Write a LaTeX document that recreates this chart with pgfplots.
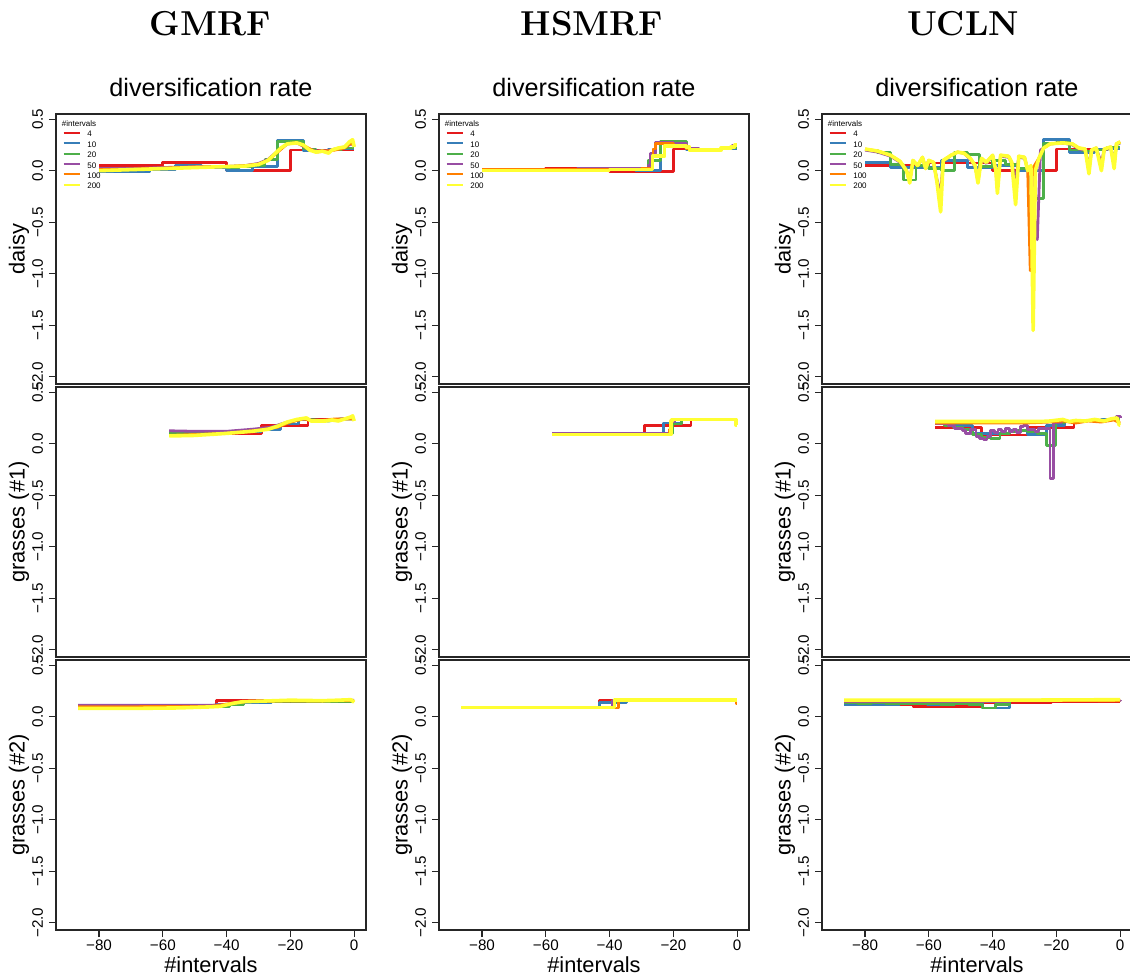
\documentclass[border=0pt]{standalone}
\usepackage{fontspec}
\usepackage{pgfplots}
\pgfplotsset{compat=1.18}
\newfontfamily\helv{Liberation Sans}
\definecolor{setred}{HTML}{E41A1C}
\definecolor{setblue}{HTML}{377EB8}
\definecolor{setgreen}{HTML}{4DAF4A}
\definecolor{setpurple}{HTML}{984EA3}
\definecolor{setorange}{HTML}{FF7F00}
\definecolor{setyellow}{HTML}{FFFF33}
\pgfplotsset{
  panel/.style={
    scale only axis, width=155pt, height=135pt,
    xmin=-93.5, xmax=3.7, ymin=-2.07, ymax=0.55,
    axis line style={black!85, line width=0.7pt},
    tick align=outside, tick pos=left, major tick length=3.5pt,
    every tick/.style={black!85, line width=0.6pt},
    ytick={-2,-1.5,-1,-0.5,0,0.5},
    yticklabels={−2.0,−1.5,−1.0,−0.5,0.0,0.5},
    yticklabel style={rotate=90, anchor=south, inner sep=0pt, font=\helv\fontsize{7.6}{8}\selectfont},
    yticklabel shift=2.8pt,
    xtick=\empty,
  },
  bottom/.style={
    xtick={-80,-60,-40,-20,0},
    xticklabels={−80,−60,−40,−20,0},
    xticklabel style={anchor=north, inner sep=0pt, font=\helv\fontsize{7.6}{8}\selectfont},
    xticklabel shift=1pt,
  },
  withleg/.style={
    legend style={at={(rel axis cs:0.02,0.94)}, anchor=north west, draw=none, fill=none,
      inner sep=0pt, row sep=0pt, font=\helv\fontsize{4}{4.5}\selectfont,
      nodes={inner sep=0.45pt}},
    legend cell align=left,
    legend image code/.code={\draw[##1, line width=1pt] (0pt,1.4pt) -- (8pt,1.4pt); \path (10.5pt,1.4pt);},
  },
  s4/.style={color=setred, line width=1.4pt, line join=round},
  s10/.style={color=setblue, line width=1.4pt, line join=round},
  s20/.style={color=setgreen, line width=1.4pt, line join=round},
  s50/.style={color=setpurple, line width=1.4pt, line join=round},
  s100/.style={color=setorange, line width=1.4pt, line join=round},
  s200/.style={color=setyellow, line width=1.8pt, line join=round},
}
\begin{document}
\begin{tikzpicture}
\useasboundingbox (0pt,0pt) rectangle (565pt,490pt);
% ---------- titles ----------
\node[font=\fontsize{17.3}{20}\selectfont\bfseries] at (105pt,478pt) {GMRF};
\node[font=\fontsize{17.3}{20}\selectfont\bfseries] at (296pt,478pt) {HSMRF};
\node[font=\fontsize{17.3}{20}\selectfont\bfseries] at (481.5pt,478pt) {UCLN};
\node[font=\helv\fontsize{12.6}{14}\selectfont] at (105.5pt,446pt) {diversification rate};
\node[font=\helv\fontsize{12.6}{14}\selectfont] at (297pt,446pt) {diversification rate};
\node[font=\helv\fontsize{12.6}{14}\selectfont] at (488.5pt,446pt) {diversification rate};
\node[font=\helv\fontsize{10.9}{12}\selectfont] at (105.5pt,7.5pt) {\#intervals};
\node[font=\helv\fontsize{10.9}{12}\selectfont] at (297pt,7.5pt) {\#intervals};
\node[font=\helv\fontsize{10.9}{12}\selectfont] at (488.5pt,7.5pt) {\#intervals};
\foreach \xx in {9.5,201,392.5}{
  \node[rotate=90, font=\helv\fontsize{10.9}{12}\selectfont] at (\xx pt,365.5pt) {daisy};
  \node[rotate=90, font=\helv\fontsize{10.9}{12}\selectfont] at (\xx pt,229pt) {grasses (\#1)};
  \node[rotate=90, font=\helv\fontsize{10.9}{12}\selectfont] at (\xx pt,92.5pt) {grasses (\#2)};
}
% ================= ROW 1: daisy =================
\begin{axis}[panel, withleg, at={(28pt,433pt)}, anchor=north west]
\addplot[s4, const plot] coordinates {(-80,0.05)(-60,0.08)(-40,0.0)(-20,0.2)(0,0.2)};
\addlegendentry{4}
\addplot[s10, const plot] coordinates {(-80,-0.01)(-72,-0.01)(-64,0.01)(-56,0.05)(-48,0.03)(-40,0.0)(-32,0.04)(-24,0.29)(-16,0.19)(-8,0.21)(0,0.21)};
\addlegendentry{10}
\addplot[s20, const plot] coordinates {(-80,0.01)(-76,0.01)(-72,0.01)(-68,0.02)(-64,0.02)(-60,0.03)(-56,0.03)(-52,0.04)(-48,0.04)(-44,0.04)(-40,0.03)(-36,0.04)(-32,0.05)(-28,0.11)(-24,0.28)(-20,0.28)(-16,0.21)(-12,0.19)(-8,0.2)(-4,0.22)(0,0.22)};
\addlegendentry{20}
\addplot[s50] coordinates {(-80,0.02)(-70,0.02)(-60,0.03)(-50,0.04)(-40,0.04)(-34,0.05)(-30,0.07)(-27,0.11)(-24,0.19)(-21,0.26)(-18,0.27)(-15,0.22)(-12,0.19)(-9,0.19)(-6,0.21)(-3,0.23)(-1,0.26)(0,0.25)};
\addlegendentry{50}
\addplot[s100] coordinates {(-80,0.01)(-70,0.015)(-60,0.025)(-50,0.035)(-40,0.04)(-34,0.05)(-30,0.065)(-27,0.1)(-24,0.18)(-21,0.26)(-18,0.27)(-15,0.23)(-12,0.18)(-9,0.19)(-6,0.2)(-3,0.22)(-1,0.27)(0,0.24)};
\addlegendentry{100}
\addplot[s200] coordinates {(-80,0.0)(-70,0.01)(-60,0.02)(-50,0.03)(-40,0.04)(-34,0.045)(-30,0.06)(-27,0.1)(-25,0.16)(-23,0.22)(-21,0.26)(-18,0.27)(-16,0.25)(-14,0.2)(-12,0.18)(-10,0.19)(-8,0.17)(-7,0.2)(-5,0.22)(-3,0.23)(-1.5,0.28)(-0.5,0.3)(0,0.23)};
\addlegendentry{200}
\node[anchor=west, inner sep=0pt, font=\helv\fontsize{4}{4.5}\selectfont] at (rel axis cs:0.018,0.963) {\#intervals};
\end{axis}
\begin{axis}[panel, withleg, at={(219.5pt,433pt)}, anchor=north west]
\addplot[s4, const plot] coordinates {(-80,0.01)(-60,0.02)(-40,-0.01)(-20,0.21)(0,0.21)};
\addlegendentry{4}
\addplot[s10, const plot] coordinates {(-80,0.0)(-72,0.0)(-64,0.01)(-56,0.01)(-48,0.01)(-40,0.01)(-32,0.0)(-24,0.27)(-16,0.2)(-8,0.21)(0,0.21)};
\addlegendentry{10}
\addplot[s20, const plot] coordinates {(-80,0.0)(-76,0.0)(-72,0.0)(-68,0.01)(-64,0.01)(-60,0.01)(-56,0.01)(-52,0.01)(-48,0.01)(-44,0.01)(-40,0.01)(-36,0.01)(-32,0.02)(-28,0.1)(-24,0.28)(-20,0.28)(-16,0.21)(-12,0.2)(-8,0.21)(-4,0.22)(0,0.22)};
\addlegendentry{20}
\addplot[s50, const plot] coordinates {(-80,0.01)(-50,0.02)(-30,0.02)(-28,0.05)(-27.2,0.17)(-25.6,0.27)(-20,0.26)(-16,0.22)(-12,0.2)(-8,0.21)(-4,0.23)(-1.6,0.25)(0,0.25)};
\addlegendentry{50}
\addplot[s100, const plot] coordinates {(-80,0.01)(-30,0.02)(-26.4,0.21)(-25.6,0.26)(-20,0.25)(-16,0.21)(-10,0.2)(-5,0.22)(-1,0.25)(0,0.25)};
\addlegendentry{100}
\addplot[s200, const plot] coordinates {(-80,0.0)(-40,0.01)(-27,0.01)(-26.6,0.14)(-22.8,0.24)(-16,0.23)(-15,0.2)(-10,0.2)(-5,0.22)(-2,0.23)(-0.8,0.25)(0,0.25)};
\addlegendentry{200}
\node[anchor=west, inner sep=0pt, font=\helv\fontsize{4}{4.5}\selectfont] at (rel axis cs:0.018,0.963) {\#intervals};
\end{axis}
\begin{axis}[panel, withleg, at={(411pt,433pt)}, anchor=north west]
\addplot[s4, const plot] coordinates {(-80,0.05)(-60,0.075)(-40,0.0)(-20,0.21)(0,0.21)};
\addlegendentry{4}
\addplot[s10, const plot] coordinates {(-80,0.08)(-72,0.03)(-64,0.03)(-56,0.1)(-48,0.03)(-40,0.05)(-32,0.0)(-24,0.3)(-16,0.18)(-8,0.21)(0,0.21)};
\addlegendentry{10}
\addplot[s20, const plot] coordinates {(-80,0.2)(-76,0.18)(-72,0.06)(-68,-0.09)(-64,0.05)(-60,0.02)(-56,0.0)(-52,0.18)(-48,0.16)(-44,0.04)(-40,0.1)(-36,0.06)(-32,0.02)(-28,-0.27)(-24,0.26)(-20,0.27)(-16,0.2)(-12,0.19)(-8,0.2)(-4,0.23)(0,0.23)};
\addlegendentry{20}
\addplot[s50] coordinates {(-80,0.2)(-76,0.18)(-72,0.14)(-69,0.08)(-67,0.0)(-66,-0.1)(-65,0.09)(-63.5,0.05)(-62,0.12)(-61,0.03)(-60,0.1)(-58.5,0.07)(-57.5,-0.08)(-56.3,-0.22)(-55.5,0.09)(-53,0.15)(-51,0.18)(-49,0.17)(-47,0.11)(-45.5,0.04)(-44.6,-0.08)(-43.5,0.11)(-42,0.07)(-40,0.14)(-39,0.02)(-38.5,-0.1)(-37.5,0.14)(-35,0.13)(-34,0.07)(-32.8,-0.1)(-31.8,0.13)(-30,0.12)(-29,0.02)(-28,-0.2)(-26,-0.67)(-25,0.2)(-22,0.26)(-18,0.27)(-15,0.25)(-13,0.21)(-11,0.2)(-9.8,0.05)(-9,0.19)(-7.5,0.21)(-5.9,0.08)(-5,0.2)(-3,0.22)(-1.9,0.1)(-1.2,0.25)(0,0.27)};
\addlegendentry{50}
\addplot[s100] coordinates {(-80,0.21)(-76,0.19)(-72,0.15)(-69,0.09)(-67,0.0)(-66,-0.11)(-65,0.1)(-63.5,0.05)(-62,0.13)(-61,0.02)(-60,0.1)(-58.5,0.08)(-57.5,-0.1)(-56.3,-0.3)(-55.5,0.1)(-53,0.15)(-51,0.18)(-49,0.17)(-47,0.12)(-45.5,0.05)(-44.6,-0.1)(-43.5,0.12)(-42,0.08)(-40,0.15)(-39,0.0)(-38.5,-0.18)(-37.5,0.15)(-35,0.14)(-34,0.08)(-32.8,-0.25)(-31.8,0.14)(-30,0.13)(-29,0.0)(-28.2,-0.97)(-27.5,0.02)(-25.5,0.12)(-24,0.22)(-22,0.26)(-18,0.27)(-15,0.26)(-13,0.22)(-11,0.21)(-9.8,0.0)(-9,0.2)(-7.5,0.22)(-5.9,0.03)(-5,0.21)(-3,0.23)(-1.9,0.05)(-1.2,0.26)(0,0.28)};
\addlegendentry{100}
\addplot[s200] coordinates {(-80,0.21)(-76,0.19)(-72,0.15)(-69,0.09)(-67,0.0)(-66,-0.12)(-65,0.1)(-63.5,0.05)(-62,0.13)(-61,0.02)(-60,0.1)(-58.5,0.08)(-57.5,-0.1)(-56.3,-0.4)(-55.5,0.1)(-53,0.15)(-51,0.18)(-49,0.17)(-47,0.12)(-45.5,0.05)(-44.6,-0.12)(-43.5,0.12)(-42,0.08)(-40,0.15)(-39,0.0)(-38.5,-0.22)(-37.5,0.15)(-35,0.14)(-34,0.08)(-32.8,-0.33)(-31.8,0.14)(-30,0.13)(-29,0.0)(-28,0.05)(-27.3,-1.55)(-26.6,0.0)(-25.5,0.12)(-24,0.22)(-22,0.26)(-18,0.27)(-15,0.26)(-13,0.22)(-11,0.21)(-9.8,-0.03)(-9,0.2)(-7.5,0.22)(-5.9,0.0)(-5,0.21)(-3,0.23)(-1.9,0.02)(-1.2,0.26)(0,0.28)};
\addlegendentry{200}
\node[anchor=west, inner sep=0pt, font=\helv\fontsize{4}{4.5}\selectfont] at (rel axis cs:0.018,0.963) {\#intervals};
\end{axis}
% ================= ROW 2: grasses (#1) =================
\begin{axis}[panel, at={(28pt,296.5pt)}, anchor=north west]
\addplot[s4, const plot] coordinates {(-58,0.09)(-43.5,0.1)(-29,0.18)(-14.5,0.24)(0,0.24)};
\addplot[s10, const plot] coordinates {(-58,0.1)(-52.2,0.1)(-46.4,0.1)(-40.6,0.11)(-34.8,0.12)(-29,0.14)(-23.2,0.19)(-17.4,0.23)(-11.6,0.22)(-5.8,0.24)(0,0.24)};
\addplot[s20] coordinates {(-58,0.1)(-45,0.1)(-35,0.12)(-28,0.14)(-24,0.17)(-20,0.21)(-16,0.24)(-12,0.23)(-8,0.22)(-4,0.24)(0,0.24)};
\addplot[s50] coordinates {(-58,0.125)(-50,0.12)(-40,0.12)(-32,0.14)(-26,0.16)(-22,0.2)(-18,0.23)(-15,0.24)(-12,0.22)(-8,0.23)(-4,0.24)(-1,0.25)(0,0.24)};
\addplot[s100] coordinates {(-58,0.08)(-40,0.1)(-30,0.13)(-24,0.16)(-20,0.21)(-16,0.24)(-12,0.22)(-6,0.24)(0,0.24)};
\addplot[s200] coordinates {(-58,0.075)(-50,0.08)(-40,0.1)(-32,0.12)(-27,0.14)(-24,0.17)(-21,0.21)(-18,0.235)(-15,0.25)(-13.5,0.22)(-12,0.22)(-9,0.22)(-7,0.23)(-5,0.22)(-3,0.24)(-1,0.26)(-0.5,0.27)(0,0.22)};
\end{axis}
\begin{axis}[panel, at={(219.5pt,296.5pt)}, anchor=north west]
\addplot[s4, const plot] coordinates {(-58,0.1)(-43.5,0.1)(-29,0.18)(-14.5,0.23)(0,0.23)};
\addplot[s10, const plot] coordinates {(-58,0.1)(-52.2,0.1)(-46.4,0.1)(-40.6,0.1)(-34.8,0.1)(-29,0.1)(-23.2,0.2)(-17.4,0.23)(-11.6,0.23)(-5.8,0.23)(0,0.23)};
\addplot[s20, const plot] coordinates {(-58,0.1)(-23.2,0.1)(-20.3,0.19)(-17.4,0.23)(0,0.23)};
\addplot[s50, const plot] coordinates {(-58,0.1)(-22,0.1)(-20.9,0.21)(-19.7,0.23)(0,0.23)};
\addplot[s100, const plot] coordinates {(-58,0.09)(-22.5,0.09)(-21.3,0.14)(-20.5,0.23)(0,0.23)};
\addplot[s200, const plot] coordinates {(-58,0.09)(-20.8,0.22)(-20.4,0.235)(-0.4,0.18)(0,0.18)};
\end{axis}
\begin{axis}[panel, at={(411pt,296.5pt)}, anchor=north west]
\addplot[s4, const plot] coordinates {(-58,0.155)(-43.5,0.085)(-29,0.155)(-14.5,0.23)(0,0.23)};
\addplot[s10, const plot] coordinates {(-58,0.19)(-52.2,0.18)(-46.4,0.1)(-40.6,0.1)(-34.8,0.13)(-29,0.09)(-23.2,0.18)(-17.4,0.21)(-11.6,0.23)(-5.8,0.24)(0,0.24)};
\addplot[s20, const plot] coordinates {(-58,0.19)(-55.1,0.18)(-52.2,0.16)(-49.3,0.14)(-46.4,0.09)(-43.5,0.06)(-40.6,0.05)(-37.7,0.1)(-34.8,0.12)(-31.9,0.13)(-29,0.12)(-26.1,0.1)(-23.2,-0.02)(-20.3,0.2)(-17.4,0.21)(-14.5,0.22)(-11.6,0.22)(-8.7,0.23)(-5.8,0.23)(-2.9,0.24)(0,0.24)};
\addplot[s50, const plot] coordinates {(-58,0.19)(-54,0.18)(-52,0.15)(-49.5,0.13)(-48.4,0.1)(-47,0.14)(-45.2,0.07)(-44,0.05)(-42.9,0.04)(-41.8,0.07)(-40.6,0.13)(-39.4,0.11)(-38.3,0.14)(-37.1,0.12)(-35.9,0.15)(-34.8,0.12)(-33.6,0.14)(-32.5,0.11)(-31.3,0.17)(-30.2,0.18)(-29,0.14)(-26.7,0.12)(-25.5,0.15)(-22,-0.34)(-20.8,0.2)(-18.5,0.22)(-14,0.23)(-8,0.23)(-4,0.24)(-1.2,0.26)(0,0.25)};
\addplot[s100] coordinates {(-58,0.2)(-30,0.2)(-22,0.21)(-18,0.22)(-14,0.2)(-10,0.22)(-6,0.21)(-2,0.23)(0,0.2)};
\addplot[s200] coordinates {(-58,0.215)(-40,0.215)(-25,0.215)(-22,0.22)(-18,0.235)(-16,0.215)(-14,0.225)(-11,0.22)(-8,0.235)(-5,0.22)(-3,0.24)(-1,0.25)(-0.3,0.18)(0,0.18)};
\end{axis}
% ================= ROW 3: grasses (#2) =================
\begin{axis}[panel, bottom, at={(28pt,160pt)}, anchor=north west]
\addplot[s4, const plot] coordinates {(-86.6,0.1)(-64.95,0.1)(-43.3,0.16)(-21.65,0.155)(0,0.155)};
\addplot[s10, const plot] coordinates {(-86.6,0.1)(-77.9,0.1)(-69.3,0.1)(-60.6,0.1)(-52,0.1)(-43.3,0.12)(-34.6,0.14)(-26,0.15)(-17.3,0.155)(-8.7,0.16)(0,0.16)};
\addplot[s20, const plot] coordinates {(-86.6,0.1)(-43.3,0.1)(-39,0.12)(-34.6,0.15)(0,0.15)};
\addplot[s50] coordinates {(-86.6,0.11)(-60,0.11)(-45,0.11)(-40,0.12)(-35,0.145)(-25,0.155)(-10,0.155)(0,0.16)};
\addplot[s100] coordinates {(-86.6,0.095)(-45,0.1)(-38,0.13)(-33,0.15)(0,0.155)};
\addplot[s200] coordinates {(-86.6,0.08)(-70,0.08)(-55,0.085)(-45,0.095)(-42,0.1)(-38,0.13)(-35,0.145)(-30,0.15)(-20,0.16)(-10,0.155)(-5,0.16)(-1,0.165)(0,0.14)};
\end{axis}
\begin{axis}[panel, bottom, at={(219.5pt,160pt)}, anchor=north west]
\addplot[s4, const plot] coordinates {(-86.6,0.09)(-64.95,0.09)(-43.3,0.16)(-21.65,0.16)(0,0.16)};
\addplot[s10, const plot] coordinates {(-86.6,0.09)(-43.3,0.14)(-34.6,0.16)(0,0.16)};
\addplot[s20, const plot] coordinates {(-86.6,0.09)(-39,0.15)(-37.5,0.16)(0,0.16)};
\addplot[s50, const plot] coordinates {(-86.6,0.09)(-39.1,0.16)(0,0.16)};
\addplot[s100, const plot] coordinates {(-86.6,0.085)(-37.3,0.16)(-0.4,0.13)(0,0.13)};
\addplot[s200, const plot] coordinates {(-86.6,0.09)(-38.5,0.16)(0,0.16)};
\end{axis}
\begin{axis}[panel, bottom, at={(411pt,160pt)}, anchor=north west]
\addplot[s4, const plot] coordinates {(-86.6,0.12)(-64.95,0.1)(-43.3,0.135)(-21.65,0.15)(0,0.15)};
\addplot[s10, const plot] coordinates {(-86.6,0.12)(-77.9,0.12)(-69.3,0.125)(-60.6,0.12)(-52,0.125)(-43.3,0.085)(-34.6,0.16)(-26,0.16)(-17.3,0.16)(-8.7,0.16)(0,0.16)};
\addplot[s20, const plot] coordinates {(-86.6,0.14)(-82.3,0.13)(-78,0.14)(-73.6,0.13)(-69.3,0.13)(-65,0.125)(-60.6,0.125)(-56.3,0.12)(-52,0.125)(-47.6,0.12)(-43.3,0.085)(-39,0.12)(-34.6,0.16)(0,0.16)};
\addplot[s50, const plot] coordinates {(-86.6,0.15)(-60,0.15)(-43.3,0.15)(-34.6,0.16)(0,0.165)};
\addplot[s100] coordinates {(-86.6,0.155)(-43.3,0.155)(-34,0.16)(0,0.155)};
\addplot[s200] coordinates {(-86.6,0.16)(-34,0.16)(0,0.165)};
\end{axis}
\end{tikzpicture}
\end{document}
